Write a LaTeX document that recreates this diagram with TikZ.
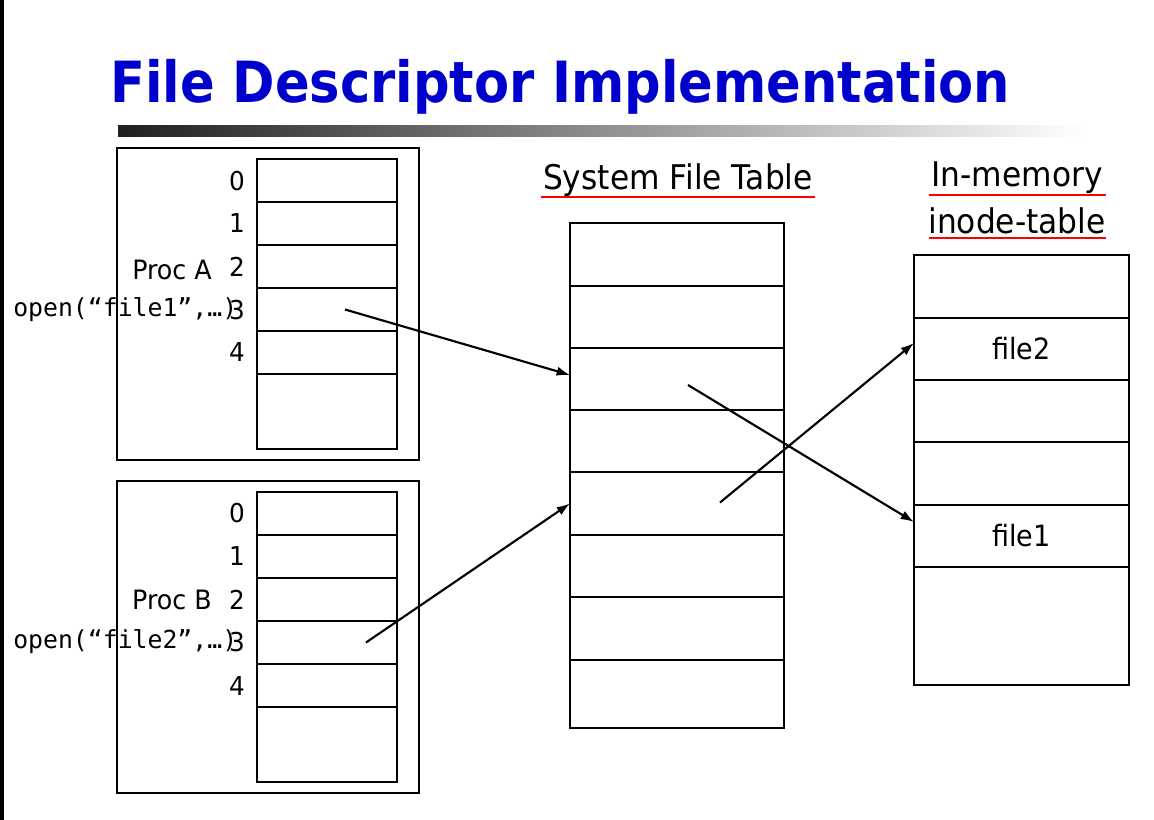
\documentclass[tikz,border=0pt]{standalone}
\usepackage{fontspec}
\setmainfont{DejaVu Sans}
\newfontfamily\tah[FakeStretch=0.95]{DejaVu Sans}
\newfontfamily\hdrfont[FakeStretch=0.92]{DejaVu Sans}
\newfontfamily\titlefont[FakeStretch=0.9]{DejaVu Sans}
\newfontfamily\monofont{DejaVu Sans Mono}
\usetikzlibrary{fit,arrows.meta,calc}
\definecolor{titleblue}{RGB}{0,0,204}
\begin{document}
\begin{tikzpicture}[x=0.75pt,y=-0.75pt,
  cell/.style={draw, line width=2pt, inner sep=0pt, outer sep=0pt},
  frame/.style={draw, line width=2pt, inner sep=0pt, outer sep=0pt},
  idx/.style={font=\tah\fontsize{19.5}{22}\selectfont, inner sep=0pt},
  plabel/.style={font=\tah\fontsize{20}{24}\selectfont, inner sep=0pt},
  flabel/.style={font=\hdrfont\fontsize{22}{26}\selectfont, inner sep=0pt},
  hdr/.style={font=\hdrfont\fontsize{25.5}{30}\selectfont, inner sep=0pt},
  code/.style={font=\monofont\fontsize{18.6}{22}\selectfont, inner sep=0pt, anchor=west},
  ul/.style={draw=red, line width=2.2pt},
  ptr/.style={line width=1.6pt, -{Latex[length=10pt,width=7pt]}}]
\useasboundingbox (0,0) rectangle (1154,820);
\fill[white] (0,0) rectangle (1154,820);
\fill[black] (0,0) rectangle (4,820);
% title
\node[anchor=base west, inner sep=0pt, text=titleblue, font=\titlefont\bfseries\fontsize{42.6}{50}\selectfont] (title) at (110,103) {File Descriptor Implementation};
\shade[left color=black!88, right color=white] (118,126) rectangle (1085,137);
% Proc A
\node[frame, fit={(117,148)(419,460)}] (procA) {};
\foreach \i/\t/\b in {0/159/202,1/202/245,2/245/288,3/288/331,4/331/374,5/374/449}
  \node[cell, fit={(257,\t)(397,\b)}] (a\i) {};
\foreach \i/\y in {0/181,1/223,2/267,3/310,4/352}
  \node[idx] (la\i) at (237,\y) {\i};
\node[plabel] (pA) at (172,270) {Proc A};
\node[code] (openA) at (13,310) {open(“file1”,…)};
% Proc B
\node[frame, fit={(117,481)(419,793)}] (procB) {};
\foreach \i/\t/\b in {0/492/535,1/535/578,2/578/621,3/621/664,4/664/707,5/707/782}
  \node[cell, fit={(257,\t)(397,\b)}] (b\i) {};
\foreach \i/\y in {0/513,1/556,2/600,3/642,4/686}
  \node[idx] (lb\i) at (237,\y) {\i};
\node[plabel] (pB) at (172,600) {Proc B};
\node[code] (openB) at (13,642) {open(“file2”,…)};
% System file table
\node[hdr] (sft) at (678,180) {System File Table};
\draw[ul] (541,197) -- (815,197);
\foreach \i/\t/\b in {0/223/286,1/286/348,2/348/410,3/410/472,4/472/535,5/535/597,6/597/660,7/660/728}
  \node[cell, fit={(570,\t)(784,\b)}] (s\i) {};
% inode table
\node[hdr] (imem) at (1017,178) {In-memory};
\draw[ul] (929,195) -- (1106,195);
\node[hdr] (itab) at (1017,221) {inode-table};
\draw[ul] (929,238) -- (1106,238);
\foreach \i/\t/\b in {0/255/318,1/318/380,2/380/442,3/442/505,4/505/567,5/567/685}
  \node[cell, fit={(914,\t)(1129,\b)}] (n\i) {};
\node[flabel] (f2) at (n1) {file2};
\node[flabel] (f1) at (n4) {file1};
% pointers
\draw[ptr] ($(a3.center)+(18,0)$) -- ($(s2.west)+(0,-4)$);
\draw[ptr] ($(b3.center)+(39,0)$) -- (s4.west);
\draw[ptr] ($(s2.center)+(11,6)$) -- ($(n4.west)+(0,-14)$);
\draw[ptr] ($(s4.center)+(43,-1)$) -- ($(n1.west)+(0,-6)$);
\end{tikzpicture}
\end{document}
